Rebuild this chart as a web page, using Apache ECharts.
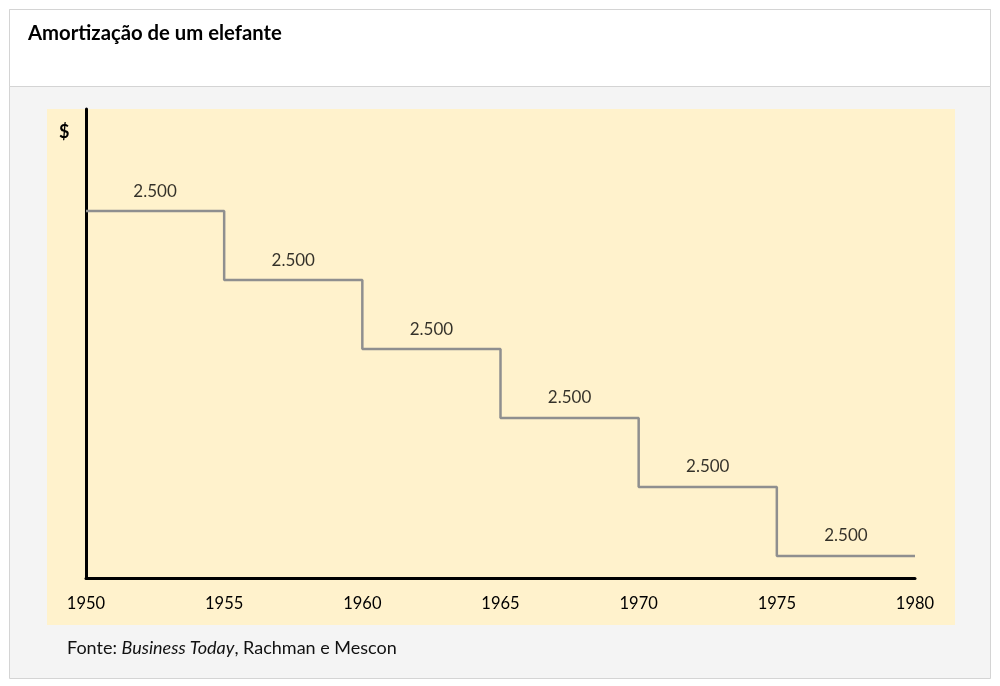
<!DOCTYPE html>
<html><head><meta charset="utf-8">
<script src="https://cdn.jsdelivr.net/npm/echarts@6/dist/echarts.min.js"></script>
<style>html,body{margin:0;padding:0;background:#fff}#c{width:1000px;height:686px}</style>
</head><body><div id="c"></div>
<script>
const years = [1950, 1955, 1960, 1965, 1970, 1975, 1980];
const bookValue = [15000, 12500, 10000, 7500, 5000, 2500, 2500];
const amortization = [2500, 2500, 2500, 2500, 2500, 2500];
const xTicks = ['1950','1955','1960','1965','1970','1975','1980'];
const title = 'Amortização de um elefante';
const yLabel = '$';

const FONT = 'Lato';
const stepData = years.map((y, i) => [y, bookValue[i]]);
const labelData = amortization.map((a, i) => ({
  value: [(years[i] + years[i + 1]) / 2, bookValue[i]],
  amount: a
}));
const fmt = v => v.toLocaleString('de-DE');

const chart = echarts.init(document.getElementById('c'));
chart.setOption({
  backgroundColor: '#ffffff',
  animation: false,
  graphic: [
    { type: 'rect', z: -10, shape: { x: 9.5, y: 9.5, width: 981, height: 669 }, style: { fill: '#f4f4f4', stroke: '#d4d4d4', lineWidth: 1 } },
    { type: 'rect', z: -9, shape: { x: 9.5, y: 9.5, width: 981, height: 77 }, style: { fill: '#ffffff', stroke: '#d4d4d4', lineWidth: 1 } },
    { type: 'rect', z: -8, shape: { x: 47, y: 109, width: 908, height: 516 }, style: { fill: '#fff2cc' } },
    { type: 'text', left: 28, top: 23, style: { text: title, font: 'bold 20.3px ' + FONT, fill: '#000' } },
    { type: 'text', left: 59, top: 123, style: { text: yLabel, font: 'bold 18px ' + FONT, fill: '#000' } },
    { type: 'text', left: 67, top: 639, style: {
      text: '{n|Fonte: }{i|Business Today}{n|, Rachman e Mescon}',
      rich: {
        n: { font: '18px ' + FONT, fill: '#111' },
        i: { font: 'italic 18px ' + FONT, fill: '#111' }
      }
    } }
  ],
  grid: { left: 86, right: 85, top: 109, bottom: 108, containLabel: false },
  xAxis: {
    type: 'value', min: 1950, max: 1980, interval: 5,
    axisLine: { show: true, onZero: false, lineStyle: { color: '#000', width: 3 } },
    axisTick: { show: false },
    splitLine: { show: false },
    axisLabel: { color: '#000', fontSize: 16.5, fontFamily: FONT, margin: 17,
      formatter: v => xTicks[years.indexOf(v)] ?? '' }
  },
  yAxis: {
    type: 'value', min: 1700, max: 18700,
    axisLine: { show: true, lineStyle: { color: '#000', width: 3 } },
    axisTick: { show: false },
    splitLine: { show: false },
    axisLabel: { show: false }
  },
  series: [
    {
      type: 'line', step: 'end', data: stepData, symbol: 'none',
      lineStyle: { color: '#8f8f8f', width: 2.5 }
    },
    {
      type: 'scatter', data: labelData, symbolSize: 1, itemStyle: { color: 'rgba(0,0,0,0)' },
      label: { show: true, position: 'top', distance: 11, color: '#000', fontSize: 17, fontFamily: FONT,
        formatter: p => fmt(p.data.amount) }
    }
  ]
});
</script></body></html>
